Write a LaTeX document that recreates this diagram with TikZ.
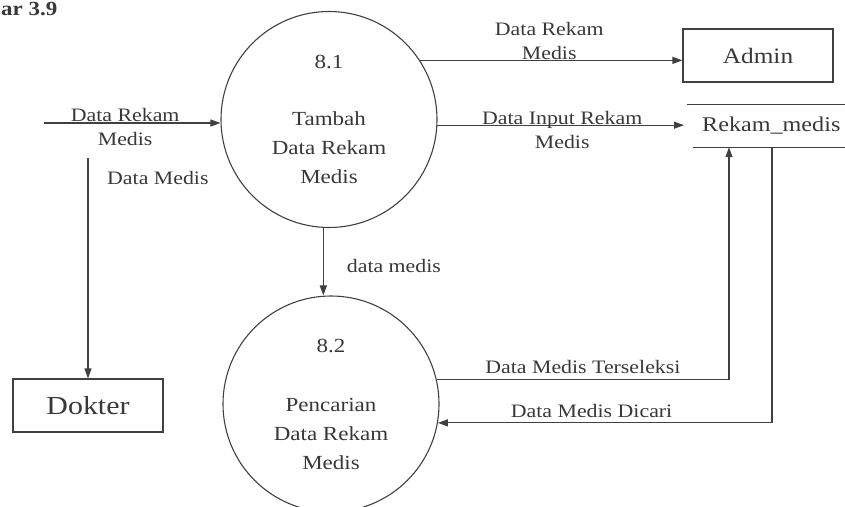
\documentclass[tikz,border=0pt]{standalone}
\usepackage{fontspec}
\setmainfont{Liberation Serif}[FakeStretch=1.15]
\usetikzlibrary{positioning, arrows.meta, calc}
\definecolor{lineGray}{HTML}{404040}
\definecolor{textGray}{HTML}{383838}
\tikzset{
  process/.style={circle, draw=lineGray, line width=1.1pt, minimum size=216pt,
    inner sep=0pt, align=center, text=textGray,
    font=\fontsize{20}{29}\selectfont},
  entity/.style={rectangle, draw=lineGray, line width=1.1pt,
    minimum width=150pt, minimum height=53pt, inner sep=0pt, text=textGray},
  store/.style={rectangle, minimum height=42pt, inner xsep=15pt, inner ysep=0pt,
    text=textGray, font=\fontsize{21}{24}\selectfont},
  flow/.style={-{Triangle[length=10pt, width=7pt]}, line width=1.1pt, color=lineGray},
  lbl/.style={font=\fontsize{19}{24}\selectfont, text=textGray, align=center, inner sep=1pt},
}
\begin{document}
\begin{tikzpicture}[x=1pt, y=-1pt]
  \useasboundingbox (0,0) rectangle (845,506);
  \clip (0,0) rectangle (845,506);

  % === Caption fragment ===
  \node[font=\bfseries\fontsize{20}{22}\selectfont, text=textGray, anchor=base west, inner sep=0pt] (cap) at (1,16) {ar 3.9};

  % === Processes ===
  \node[process] (p81) at (329,119.5) {8.1\\[28pt]Tambah\\Data Rekam\\Medis};
  \node[process] (p82) at (331,404) {8.2\\[30pt]Pencarian\\Data Rekam\\Medis};

  % === External entities and data store ===
  \node[entity, font=\fontsize{22}{24}\selectfont] (admin) at (758,55.5) {Admin};
  \node[entity, font=\fontsize{26}{28}\selectfont] (dokter) at (88,405.5) {Dokter};
  \node[store, anchor=west] (rekam) at (687,126) {Rekam\_medis};
  \draw[line width=1.1pt, lineGray] (rekam.north west) -- ([xshift=20pt]rekam.north east);
  \draw[line width=1.1pt, lineGray] ([xshift=6pt]rekam.south west) -- ([xshift=20pt]rekam.south east);

  % free ends
  \coordinate (inL) at (44,123);
  \coordinate (dmStart) at (88,158);
  \coordinate (upX) at ([xshift=42pt]rekam.south west);
  \coordinate (dnX) at ([xshift=85pt]rekam.south west);

  % === Flows into / out of 8.1 ===
  \draw[flow] (inL) -- node[lbl, pos=0.46, yshift=-4pt] {Data Rekam\\Medis} (inL -| p81.west);
  \draw[flow] (dmStart) -- (dokter.north);
  \node[lbl, anchor=west] (lblDM) at ([xshift=18pt, yshift=-20pt]dmStart) {Data Medis};

  \draw[flow] (p81.33) -- node[lbl, above, inner sep=0pt, xshift=-2pt] {Data Rekam\\Medis} (p81.33 -| admin.west);
  \draw[flow, shorten >=3pt] (p81.-3) -- node[lbl, yshift=-5pt] {Data Input Rekam\\Medis} (p81.-3 -| rekam.west);
  \draw[flow] (p81.267) -- node[lbl, right=22pt, yshift=-4pt] {data medis} (p81.267 |- p82.north);

  % === Flows between 8.2 and Rekam_medis ===
  \draw[flow] (p82.13) -| node[lbl, pos=0.25, above=4pt] {Data Medis Terseleksi} (upX);
  \draw[flow] (dnX) |- node[lbl, pos=0.77, above=4pt] {Data Medis Dicari} (p82.-10);

\end{tikzpicture}
\end{document}
